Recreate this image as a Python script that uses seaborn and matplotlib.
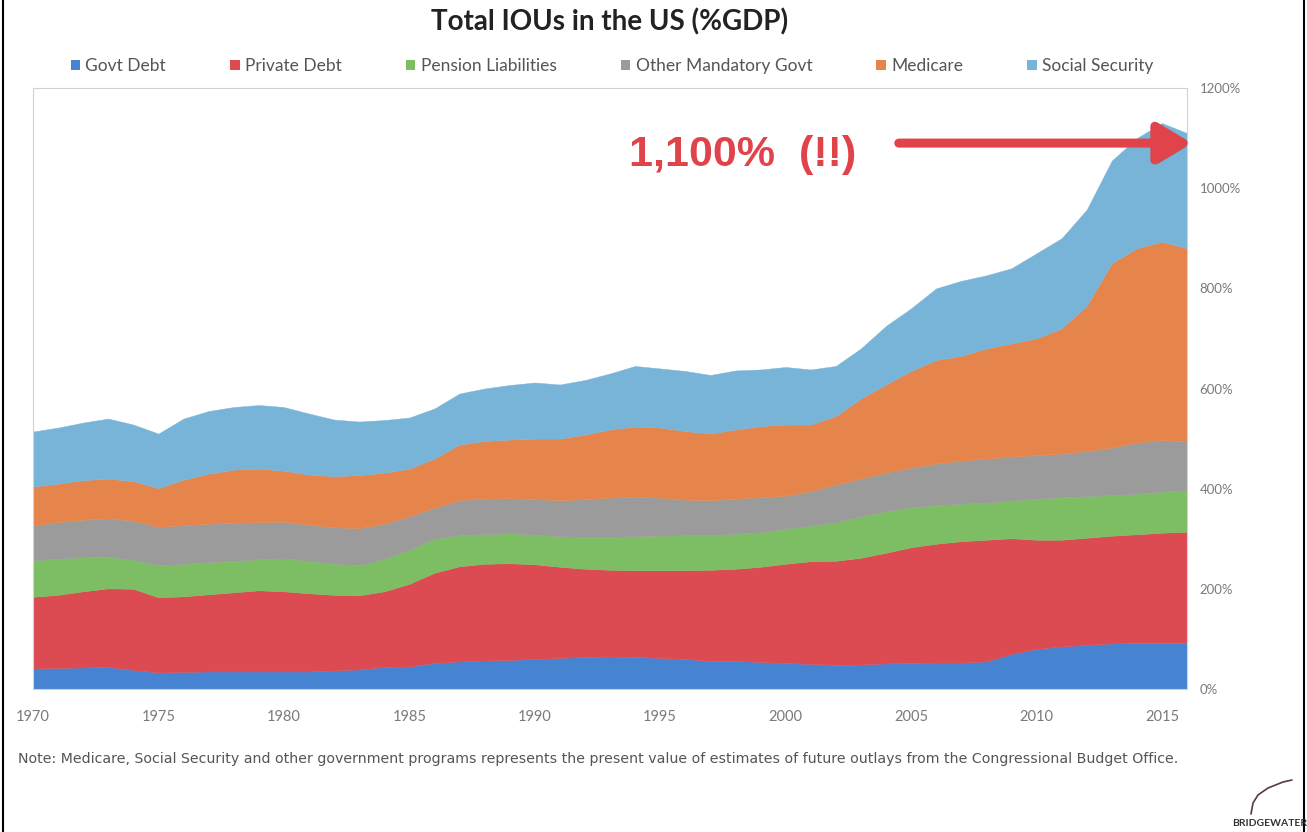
import matplotlib
matplotlib.use("Agg")
import matplotlib.pyplot as plt
import matplotlib.patheffects as pe
from matplotlib.lines import Line2D
from matplotlib.patches import Patch
from matplotlib.ticker import FuncFormatter
import seaborn as sns
import pandas as pd

# Annual values, % of GDP
years = list(range(1970, 2017))

govt_debt = [41, 42, 43, 44, 38, 33, 34, 35, 35, 35, 35, 35, 37, 39, 44, 45,
             52, 55, 57, 58, 60, 62, 64, 65, 64, 62, 60, 56, 56, 54, 52, 50,
             48, 49, 51, 52, 53, 53, 55, 70, 80, 85, 88, 91, 92, 92, 92]
private_debt = [143, 146, 152, 157, 162, 150, 151, 154, 158, 162, 160, 156, 151, 148, 151, 165,
                180, 190, 193, 193, 189, 182, 176, 173, 173, 175, 177, 182, 184, 190, 198, 205,
                208, 213, 221, 231, 237, 242, 243, 231, 218, 213, 214, 215, 217, 220, 222]
pension = [73, 72, 68, 63, 58, 64, 65, 64, 63, 62, 66, 65, 62, 60, 65, 68,
           68, 62, 59, 60, 59, 61, 64, 66, 68, 69, 70, 69, 70, 69, 70, 71,
           77, 83, 83, 80, 77, 75, 74, 75, 82, 85, 83, 81, 81, 82, 83]
other_mandatory = [70, 73, 75, 77, 78, 77, 77, 77, 76, 74, 73, 72, 73, 74, 70, 67,
                   62, 70, 71, 70, 71, 72, 75, 78, 79, 76, 71, 70, 70, 70, 66, 69,
                   75, 75, 77, 79, 83, 86, 88, 88, 87, 87, 90, 95, 102, 103, 97]
medicare = [77, 77, 79, 79, 79, 77, 91, 100, 106, 107, 102, 100, 102, 106, 102, 95,
            98, 111, 115, 117, 121, 123, 129, 136, 140, 140, 137, 133, 138, 142, 142, 133,
            137, 160, 176, 193, 207, 209, 220, 226, 233, 250, 290, 368, 388, 396, 386]
social_security = [110, 112, 115, 120, 113, 109, 122, 125, 125, 127, 127, 122, 113, 107, 105, 102,
                   100, 102, 105, 109, 112, 108, 109, 112, 121, 118, 120, 117, 118, 113, 115, 110,
                   100, 100, 117, 125, 143, 150, 146, 150, 170, 180, 192, 205, 220, 237, 230]

series_names = ["Govt Debt", "Private Debt", "Pension Liabilities",
                "Other Mandatory Govt", "Medicare", "Social Security"]
series_colors = ["#4683d1", "#dc4b52", "#7dbe64", "#9b9b9b", "#e6854b", "#78b4d7"]

y_ticks = [0, 200, 400, 600, 800, 1000, 1200]
x_ticks = [1970, 1975, 1980, 1985, 1990, 1995, 2000, 2005, 2010, 2015]

callout_value = 1100
callout_text = "1,100%  (!!)"
title_text = "Total IOUs in the US (%GDP)"
note_text = ("Note: Medicare, Social Security and other government programs represents the "
             "present value of estimates of future outlays from the Congressional Budget Office.")

df = pd.DataFrame({
    "year": years,
    "Govt Debt": govt_debt,
    "Private Debt": private_debt,
    "Pension Liabilities": pension,
    "Other Mandatory Govt": other_mandatory,
    "Medicare": medicare,
    "Social Security": social_security,
})

sns.set_theme(style="white")
plt.rcParams["font.family"] = ["Lato", "DejaVu Sans"]
palette = sns.color_palette(series_colors)

W, H = 1307, 832
fig = plt.figure(figsize=(W / 100, H / 100), dpi=100)
fig.patch.set_facecolor("white")

left, right, top, bottom = 33, 1187, 88, 689
ax = fig.add_axes([left / W, 1 - bottom / H, (right - left) / W, (bottom - top) / H])

ax.stackplot(df["year"], *[df[n] for n in series_names], colors=palette,
             labels=series_names, edgecolor="face", linewidth=0.3)

ax.set_xlim(1970, 2016)
ax.set_ylim(0, 1200)
ax.set_xticks(x_ticks)
ax.set_yticks(y_ticks)
ax.yaxis.tick_right()
ax.yaxis.set_major_formatter(FuncFormatter(lambda v, _: f"{v:.0f}%"))
ax.tick_params(axis="x", length=0, pad=15, labelsize=10.5, labelcolor="#7a7a7a")
ax.tick_params(axis="y", length=0, pad=9, labelsize=9.5, labelcolor="#7a7a7a")
for lbl in ax.get_yticklabels():
    lbl.set_horizontalalignment("left")
for sp in ax.spines.values():
    sp.set_color("#d2d2d2")
    sp.set_linewidth(0.8)
ax.grid(False)

# Callout text and arrow
ax.text(1998.3, 1066, callout_text, color="#e0434a", fontsize=31, fontweight="bold",
        ha="center", va="center", family=["Liberation Sans", "DejaVu Sans"])
ax.annotate("", xy=(2016.3, callout_value - 10), xytext=(2004.4, callout_value - 10),
            annotation_clip=False,
            arrowprops=dict(arrowstyle="-|>,head_length=0.45,head_width=0.27",
                            mutation_scale=45, color="#e0434a", lw=6.5,
                            capstyle="round", clip_on=False,
                            path_effects=[pe.SimplePatchShadow(offset=(2, -3), alpha=0.3),
                                          pe.Normal()]))

# Title
fig.text(610 / W, 1 - 22 / H, title_text, ha="center", va="center",
         fontsize=20, fontweight="bold", color="#222222")

# Legend
handles = [Patch(facecolor=c, edgecolor="none") for c in palette]
fig.legend(handles, series_names, loc="center", bbox_to_anchor=(612 / W, 1 - 66 / H),
           ncol=6, frameon=False, fontsize=12.5, handlelength=0.55, handleheight=0.55,
           handletextpad=0.3, columnspacing=3.7, labelcolor="#555555")

# Footnote
fig.text(18 / W, 1 - 759 / H, note_text, ha="left", va="center", fontsize=10.2,
         color="#555555", family=["DejaVu Sans"])

# Corner logo
fig.text(1270 / W, 1 - 824 / H, "BRIDGEWATER", ha="center", va="center",
         fontsize=7.5, fontweight="bold", color="#333333")
fig.add_artist(Line2D([1251 / W, 1253 / W, 1258 / W, 1268 / W, 1283 / W, 1292 / W],
                      [1 - 814 / H, 1 - 803 / H, 1 - 795 / H, 1 - 788 / H, 1 - 782 / H, 1 - 780 / H],
                      transform=fig.transFigure, color="#5a3a3a", lw=1.2))

# Page border lines
for xb in (3 / W, 1304 / W):
    fig.add_artist(Line2D([xb, xb], [0, 1], transform=fig.transFigure, color="black", lw=1.5))

fig.savefig("out.png", dpi=100)
